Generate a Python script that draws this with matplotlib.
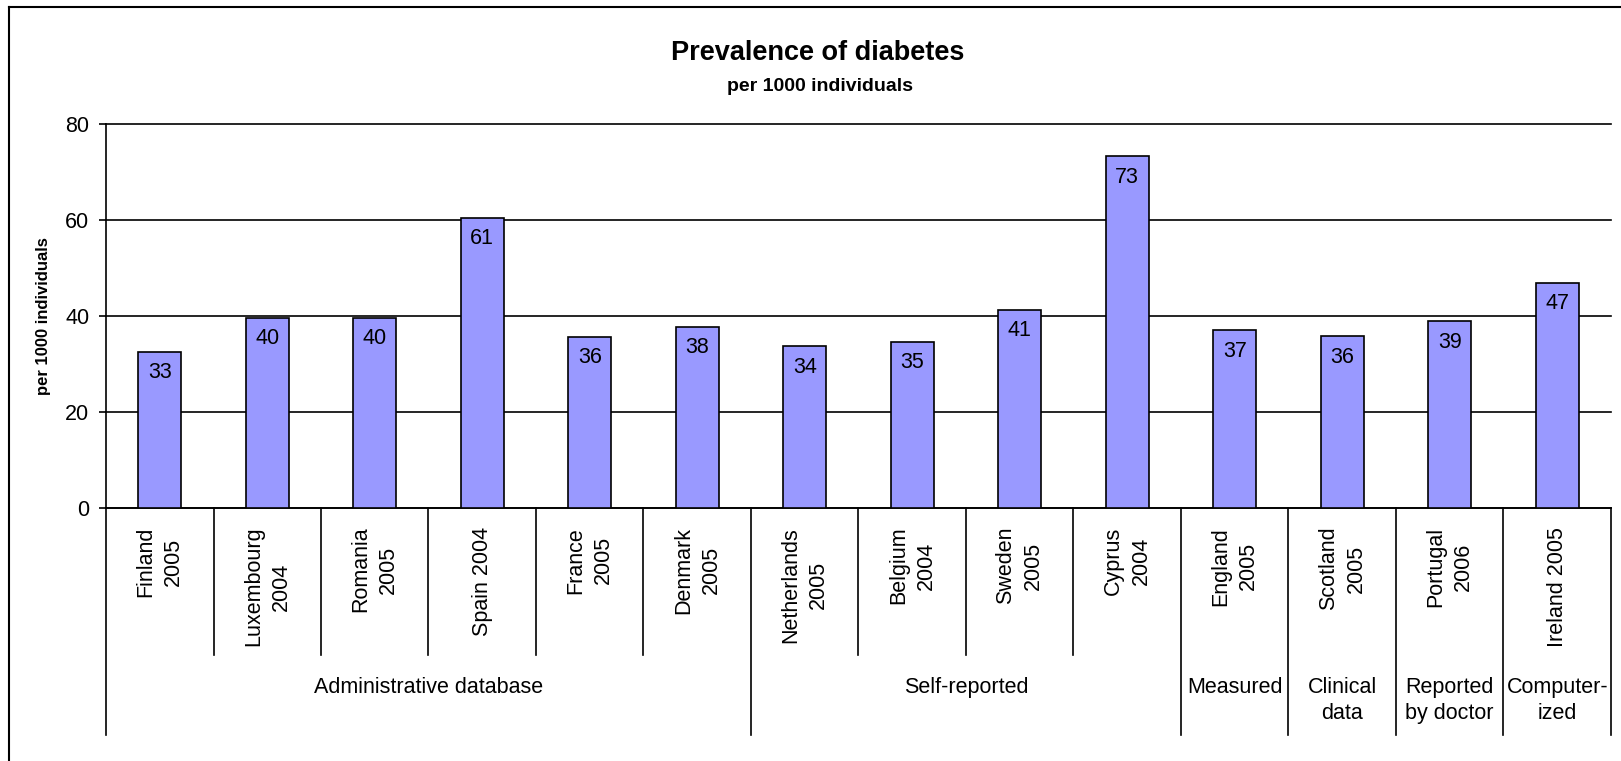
import matplotlib
matplotlib.use("Agg")
import matplotlib.pyplot as plt
from matplotlib.lines import Line2D

# data
countries = ["Finland\n2005", "Luxembourg\n2004", "Romania\n2005", "Spain 2004",
             "France\n2005", "Denmark\n2005", "Netherlands\n2005", "Belgium\n2004",
             "Sweden\n2005", "Cyprus\n2004", "England\n2005", "Scotland\n2005",
             "Portugal\n2006", "Ireland 2005"]
prevalence = [32.5, 39.6, 39.6, 60.5, 35.7, 37.8, 33.7, 34.6, 41.3, 73.3, 37.0, 35.8, 38.9, 46.9]
value_labels = ["33", "40", "40", "61", "36", "38", "34", "35", "41", "73", "37", "36", "39", "47"]
group_names = ["Administrative database", "Self-reported", "Measured",
               "Clinical\ndata", "Reported\nby doctor", "Computer-\nized"]
group_sizes = [6, 4, 1, 1, 1, 1]
yticks = [0, 20, 40, 60, 80]

plt.rcParams['font.family'] = ['Liberation Sans', 'DejaVu Sans']

fig = plt.figure(figsize=(16.21, 7.61), dpi=100)
ax = fig.add_axes([0.0654, 0.3325, 0.9284, 0.5045])

x = list(range(len(countries)))
ax.bar(x, prevalence, width=0.4, color="#9999FF", edgecolor="black", linewidth=1.2, zorder=3)
for xi, v, lab in zip(x, prevalence, value_labels):
    ax.annotate(lab, (xi, v), xytext=(0, -7.5), textcoords="offset points",
                ha="center", va="top", fontsize=15.5, zorder=4)

ax.set_xlim(-0.5, len(countries) - 0.5)
ax.set_ylim(0, 80)
ax.set_yticks(yticks)
ax.tick_params(axis="y", labelsize=15.5, length=5, width=1.2, pad=7)
ax.set_xticks([])
ax.yaxis.grid(True, color="black", linewidth=1.2, zorder=0)
for gl in ax.get_ygridlines():
    gl.set_clip_on(False)
ax.set_axisbelow(True)
for s in ["top", "right"]:
    ax.spines[s].set_visible(False)
ax.spines["left"].set_linewidth(1.2)
ax.spines["bottom"].set_linewidth(1.2)
ax.set_ylabel("per 1000 individuals", fontsize=12, fontweight="bold", labelpad=10)

tr = ax.get_xaxis_transform()
# category labels
for xi, name in zip(x, countries):
    ax.text(xi, -0.049, name, transform=tr, rotation=90, ha="center", va="top",
            multialignment="center", fontsize=15.5, linespacing=1.4)

# separators and group labels
bounds = [0]
for n in group_sizes:
    bounds.append(bounds[-1] + n)
group_edges = set(bounds)
for i in range(len(countries) + 1):
    bottom = -0.591 if i in group_edges else -0.383
    ax.plot([i - 0.5, i - 0.5], [0, bottom], transform=tr, color="black",
            linewidth=1.2, clip_on=False)
for name, b0, b1 in zip(group_names, bounds[:-1], bounds[1:]):
    ax.text((b0 + b1) / 2 - 0.5, -0.44, name, transform=tr, ha="center", va="top",
            fontsize=15.5, linespacing=1.35)

fig.text(0.5046, 0.931, "Prevalence of diabetes", ha="center", va="center",
         fontsize=19.5, fontweight="bold")
fig.text(0.5058, 0.886, "per 1000 individuals", ha="center", va="center",
         fontsize=14, fontweight="bold")

# outer frame (only left and top edges are inside the picture)
x0, y0 = 9 / 1621, 1 - 7 / 761
fig.add_artist(Line2D([x0, x0], [0, y0], color="black", linewidth=1.5))
fig.add_artist(Line2D([x0, 1], [y0, y0], color="black", linewidth=1.5))

fig.savefig("out.png", dpi=100, facecolor="white")
